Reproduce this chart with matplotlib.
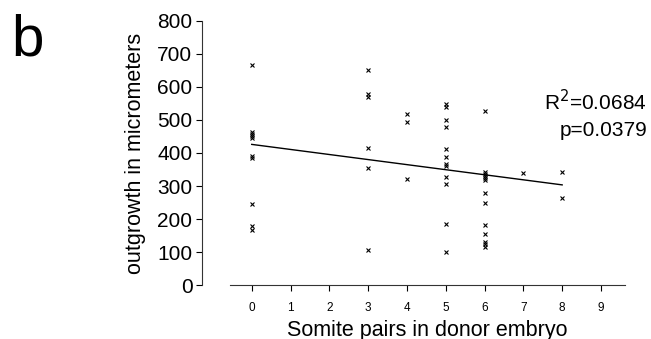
import numpy as np
import matplotlib
matplotlib.use("Agg")
from matplotlib import pyplot as plt

plt.rcParams['font.family'] = ['Liberation Sans', 'DejaVu Sans']

# somite pairs (x) and outgrowth (y)
somites_0 = [666, 462, 456, 450, 446, 390, 385, 245, 180, 168]
somites_3 = [651, 578, 570, 416, 356, 107]
somites_4 = [518, 495, 321]
somites_5 = [548, 540, 500, 480, 411, 389, 368, 360, 328, 306, 185, 102]
somites_6 = [527, 344, 337, 330, 324, 318, 278, 248, 182, 154, 132, 124, 115]
somites_7 = [339]
somites_8 = [343, 263]

groups = {0: somites_0, 3: somites_3, 4: somites_4, 5: somites_5,
          6: somites_6, 7: somites_7, 8: somites_8}

# regression line as drawn
fit_intercept = 426
fit_slope = -15.3
fit_range = [0, 8]

xticks = list(range(10))
yticks = list(range(0, 801, 100))

fig = plt.figure(figsize=(6.51, 3.39), dpi=100)
ax = fig.add_axes([0.3533, 0.1584, 0.6068, 0.7806])

xs, ys = [], []
for k, v in groups.items():
    xs += [k] * len(v)
    ys += v
ax.plot(xs, ys, 'x', color='black', markersize=3.5, markeredgewidth=0.8)

fx = np.array(fit_range)
ax.plot(fx, fit_intercept + fit_slope * fx, color='black', lw=1.0)

ax.set_xlim(-0.56, 9.62)
ax.set_ylim(0, 800)
ax.set_xticks(xticks)
ax.set_yticks(yticks)
ax.tick_params(axis='x', labelsize=8.5, length=4, width=0.8, pad=8)
ax.tick_params(axis='y', labelsize=15, length=4, width=0.8, pad=3)

ax.spines['top'].set_visible(False)
ax.spines['right'].set_visible(False)
ax.spines['left'].set_position(('outward', 20))  # 20 pt ~ 28 px gap
for s in ['left', 'bottom']:
    ax.spines[s].set_linewidth(0.8)
    ax.spines[s].set_color('#333333')

ax.set_xlabel('Somite pairs in donor embryo', fontsize=15.5, labelpad=4)
ax.set_ylabel('outgrowth in micrometers', fontsize=15.5, labelpad=8)

fig.text(0.994, 0.70, r'R$^2$=0.0684', ha='right', va='center', fontsize=15)
fig.text(0.994, 0.615, 'p=0.0379', ha='right', va='center', fontsize=15)
fig.text(0.018, 1 - 55 / 339, 'b', ha='left', va='baseline', fontsize=42)

fig.savefig('out.png', dpi=100)
